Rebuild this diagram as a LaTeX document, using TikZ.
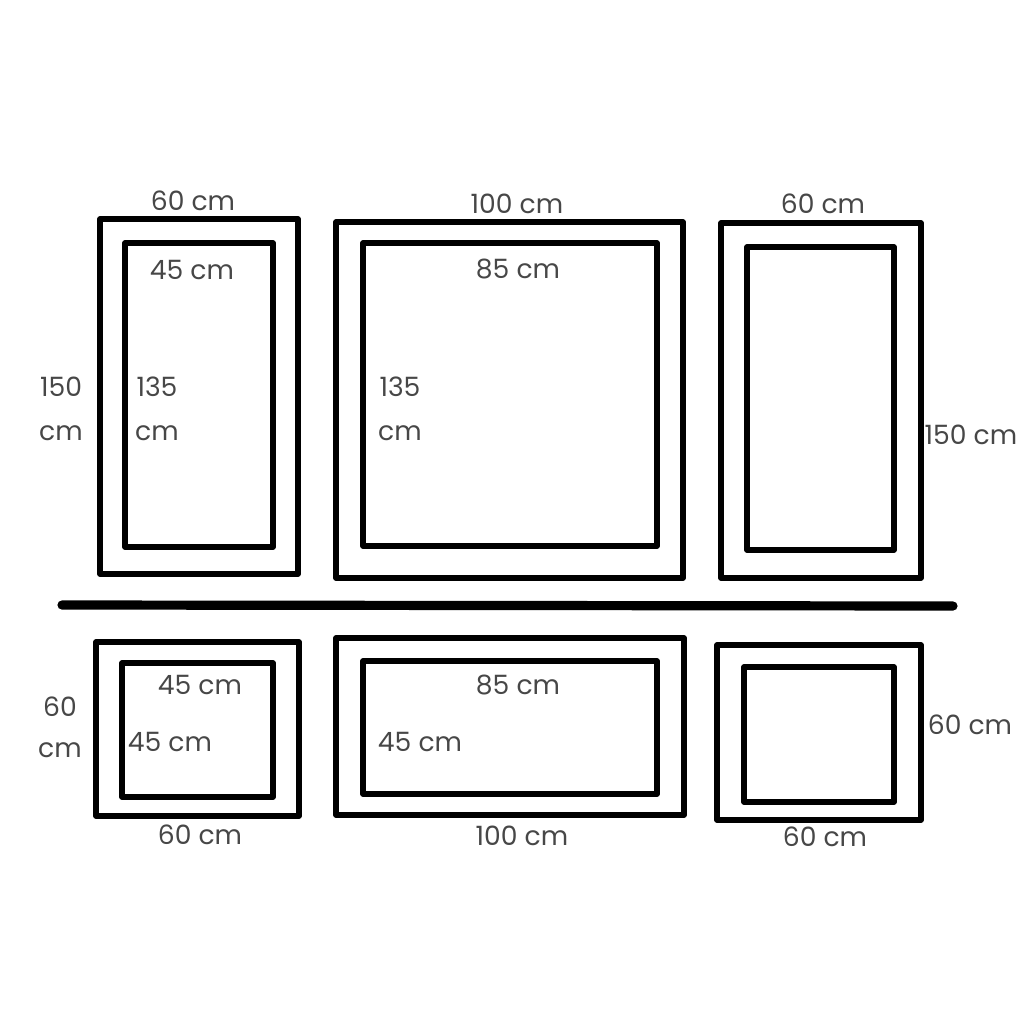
\documentclass[tikz,border=0pt]{standalone}
\usepackage{fontspec}
\setmainfont{Poppins}
\begin{document}
\begin{tikzpicture}[x=0.5pt,y=-0.5pt,
  frame/.style={draw=black,line width=2.6pt,line join=round},
  lbl/.style={text=black!72,font=\fontsize{13.3}{13.3}\selectfont,inner sep=0pt,anchor=center}]
\useasboundingbox[fill=white] (0,0) rectangle (1024,1024);
% top row
\draw[frame] (100,219) rectangle (298,574);
\draw[frame] (125,243) rectangle (273,547);
\draw[frame] (336,222) rectangle (683,578);
\draw[frame] (363,243) rectangle (657,546);
\draw[frame] (721,223) rectangle (921,578);
\draw[frame] (747,247) rectangle (894,550);
% divider
\draw[line width=4.6pt,line cap=round] (62,605) -- (953,606);
% bottom row
\draw[frame] (96,642) rectangle (299,816);
\draw[frame] (122,663) rectangle (273,797);
\draw[frame] (336,638) rectangle (684,815);
\draw[frame] (363,661) rectangle (657,794);
\draw[frame] (717,645) rectangle (921,820);
\draw[frame] (744,667) rectangle (894,802);
% labels top
\node[lbl] (t1) at (193,201) {60 cm};
\node[lbl] (t2) at (192,270) {45 cm};
\node[lbl] (t3) at (61,387) {150};
\node[lbl] (t4) at (61,433) {cm};
\node[lbl] (t5) at (157,387) {135};
\node[lbl] (t6) at (157,433) {cm};
\node[lbl] (t7) at (517,204) {100 cm};
\node[lbl] (t8) at (518,269) {85 cm};
\node[lbl] (t9) at (400,387) {135};
\node[lbl] (t10) at (400,433) {cm};
\node[lbl] (t11) at (823,204) {60 cm};
\node[lbl] (t12) at (971,435) {150 cm};
% labels bottom
\node[lbl] (b1) at (200,685) {45 cm};
\node[lbl] (b2) at (170,742) {45 cm};
\node[lbl] (b3) at (60,707) {60};
\node[lbl] (b4) at (60,750) {cm};
\node[lbl] (b5) at (200,835) {60 cm};
\node[lbl] (b6) at (518,685) {85 cm};
\node[lbl] (b7) at (420,742) {45 cm};
\node[lbl] (b8) at (522,836) {100 cm};
\node[lbl] (b9) at (970,725) {60 cm};
\node[lbl] (b10) at (825,837) {60 cm};
\end{tikzpicture}
\end{document}
